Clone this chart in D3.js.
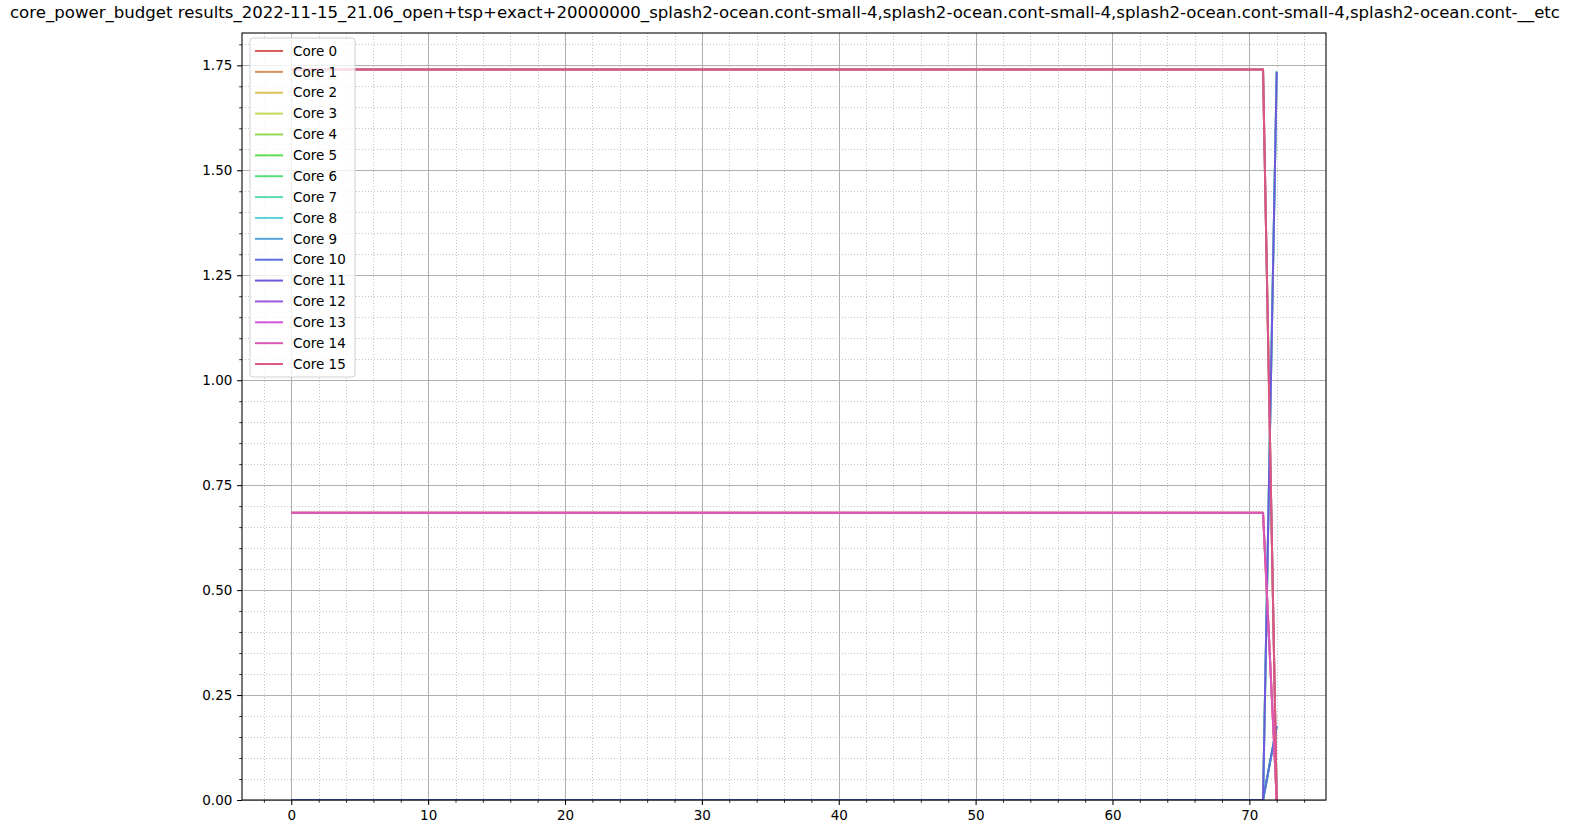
<!DOCTYPE html>
<html>
<head>
<meta charset="utf-8">
<script src="https://cdn.jsdelivr.net/npm/d3@7"></script>
<style>
  html, body { margin: 0; padding: 0; background: #fff; overflow: hidden; }
  svg { display: block; }
  svg text { font-family: "DejaVu Sans", sans-serif; fill: #000; }
</style>
</head>
<body>
<div id="chart-container"></div>
<script>
// breakpoints of the time axis (values are flat between them)
var times = [0, 71, 72];

var coreNames = ["Core 0", "Core 1", "Core 2", "Core 3", "Core 4", "Core 5", "Core 6", "Core 7",
  "Core 8", "Core 9", "Core 10", "Core 11", "Core 12", "Core 13", "Core 14", "Core 15"];

// power budget per core at each breakpoint (null = no sample)
var budgetHigh = [1.74, 1.74, 0];
var budgetMid = [0.684, 0.684, 0];
var budgetRise = [null, 0, 1.735];
var budgetLow = [0, 0, 0.176];

var coreValues = [
  budgetHigh, budgetMid, budgetMid, budgetHigh,
  budgetRise, budgetLow, budgetLow, budgetRise,
  budgetRise, budgetLow, budgetLow, budgetRise,
  budgetHigh, budgetMid, budgetMid, budgetHigh
];

var xTicks = [0, 10, 20, 30, 40, 50, 60, 70];
var yTicks = [0, 0.25, 0.5, 0.75, 1.0, 1.25, 1.5, 1.75];

var titleText = "core_power_budget results_2022-11-15_21.06_open+tsp+exact+20000000_splash2-ocean.cont-small-4,splash2-ocean.cont-small-4,splash2-ocean.cont-small-4,splash2-ocean.cont-__etc";

var W = 1571, H = 836;
var plot = { left: 242, right: 1326, top: 33, bottom: 800 };

// seaborn-like hls palette
var colors = coreNames.map(function (d, i) {
  return d3.hsl(((i / 16 + 0.01) % 1) * 360, 0.65, 0.6).formatHex();
});

var svg = d3.select("#chart-container").append("svg")
  .attr("width", W).attr("height", H);

var x = d3.scaleLinear().domain([-3.6, 75.6]).range([plot.left, plot.right]);
var y = d3.scaleLinear().domain([0, 1.827]).range([plot.bottom, plot.top]);

var xMinor = d3.range(-2, 76, 2).filter(function (v) { return v % 10 !== 0; });
var yMinor = d3.range(0, 1.83, 0.05).filter(function (v) { return Math.abs(v / 0.25 - Math.round(v / 0.25)) > 1e-6; });

// minor grid (dotted)
var grid = svg.append("g");
grid.selectAll(".xminor").data(xMinor).enter().append("line")
  .attr("x1", function (d) { return Math.round(x(d)) + 0.5; }).attr("x2", function (d) { return Math.round(x(d)) + 0.5; })
  .attr("y1", plot.top).attr("y2", plot.bottom)
  .attr("stroke", "#c4c4c4").attr("stroke-width", 1).attr("stroke-dasharray", "1,2");
grid.selectAll(".yminor").data(yMinor).enter().append("line")
  .attr("y1", function (d) { return Math.round(y(d)) + 0.5; }).attr("y2", function (d) { return Math.round(y(d)) + 0.5; })
  .attr("x1", plot.left).attr("x2", plot.right)
  .attr("stroke", "#c4c4c4").attr("stroke-width", 1).attr("stroke-dasharray", "1,2");
// major grid
grid.selectAll(".xmajor").data(xTicks).enter().append("line")
  .attr("x1", function (d) { return Math.round(x(d)) + 0.5; }).attr("x2", function (d) { return Math.round(x(d)) + 0.5; })
  .attr("y1", plot.top).attr("y2", plot.bottom)
  .attr("stroke", "#b0b0b0").attr("stroke-width", 1.07);
grid.selectAll(".ymajor").data(yTicks).enter().append("line")
  .attr("y1", function (d) { return Math.round(y(d)) + 0.5; }).attr("y2", function (d) { return Math.round(y(d)) + 0.5; })
  .attr("x1", plot.left).attr("x2", plot.right)
  .attr("stroke", "#b0b0b0").attr("stroke-width", 1.07);

// lines
svg.append("clipPath").attr("id", "clip").append("rect")
  .attr("x", plot.left).attr("y", plot.top)
  .attr("width", plot.right - plot.left).attr("height", plot.bottom - plot.top);

var line = d3.line()
  .defined(function (d) { return d[1] !== null; })
  .x(function (d) { return x(d[0]); })
  .y(function (d) { return y(d[1]); });

svg.append("g").attr("clip-path", "url(#clip)")
  .selectAll("path").data(coreValues).enter().append("path")
  .attr("d", function (vals) { return line(vals.map(function (v, i) { return [times[i], v]; })); })
  .attr("fill", "none")
  .attr("stroke", function (d, i) { return colors[i]; })
  .attr("stroke-width", 2)
  .attr("stroke-linejoin", "round");

// axes
var xAxis = d3.axisBottom(x).tickValues(xTicks).tickFormat(d3.format("d")).tickSize(4.9).tickPadding(6);
var yAxis = d3.axisLeft(y).tickValues(yTicks).tickFormat(d3.format(".2f")).tickSize(4.9).tickPadding(4.8);

var gx = svg.append("g").attr("transform", "translate(0," + plot.bottom + ")").call(xAxis);
var gy = svg.append("g").attr("transform", "translate(" + plot.left + ",0)").call(yAxis);
[gx, gy].forEach(function (g) {
  g.select(".domain").remove();
  g.selectAll("line").attr("stroke", "#000").attr("stroke-width", 1.07);
  g.selectAll("text").style("font-size", "13.5px").attr("fill", "#000");
});

svg.append("g").attr("transform", "translate(0," + plot.bottom + ")")
  .call(d3.axisBottom(x).tickValues(xMinor).tickFormat("").tickSize(2.8))
  .call(function (g) { g.select(".domain").remove(); g.selectAll("line").attr("stroke", "#000").attr("stroke-width", 0.8); });
svg.append("g").attr("transform", "translate(" + plot.left + ",0)")
  .call(d3.axisLeft(y).tickValues(yMinor).tickFormat("").tickSize(2.8))
  .call(function (g) { g.select(".domain").remove(); g.selectAll("line").attr("stroke", "#000").attr("stroke-width", 0.8); });

// frame
svg.append("rect")
  .attr("x", plot.left).attr("y", plot.top)
  .attr("width", plot.right - plot.left).attr("height", plot.bottom - plot.top)
  .attr("fill", "none").attr("stroke", "#000").attr("stroke-width", 1.07);

// title
svg.append("text")
  .attr("x", 785).attr("y", 18)
  .attr("text-anchor", "middle")
  .attr("textLength", 1550).attr("lengthAdjust", "spacingAndGlyphs")
  .style("font-size", "16.6px")
  .text(titleText);

// legend
var leg = svg.append("g").attr("transform", "translate(250,38)");
leg.append("rect")
  .attr("x", 0).attr("y", 0).attr("width", 105).attr("height", 339)
  .attr("rx", 3).attr("ry", 3)
  .attr("fill", "#fff").attr("fill-opacity", 0.8)
  .attr("stroke", "#d0d0d0").attr("stroke-width", 1);
var items = leg.selectAll(".item").data(coreNames).enter().append("g")
  .attr("transform", function (d, i) { return "translate(0," + (13 + i * 20.87) + ")"; });
items.append("line")
  .attr("x1", 5).attr("x2", 33)
  .attr("stroke", function (d, i) { return colors[i]; }).attr("stroke-width", 2);
items.append("text")
  .attr("x", 43).attr("dy", "0.35em")
  .style("font-size", "13.5px")
  .text(function (d) { return d; });
</script>
</body>
</html>
